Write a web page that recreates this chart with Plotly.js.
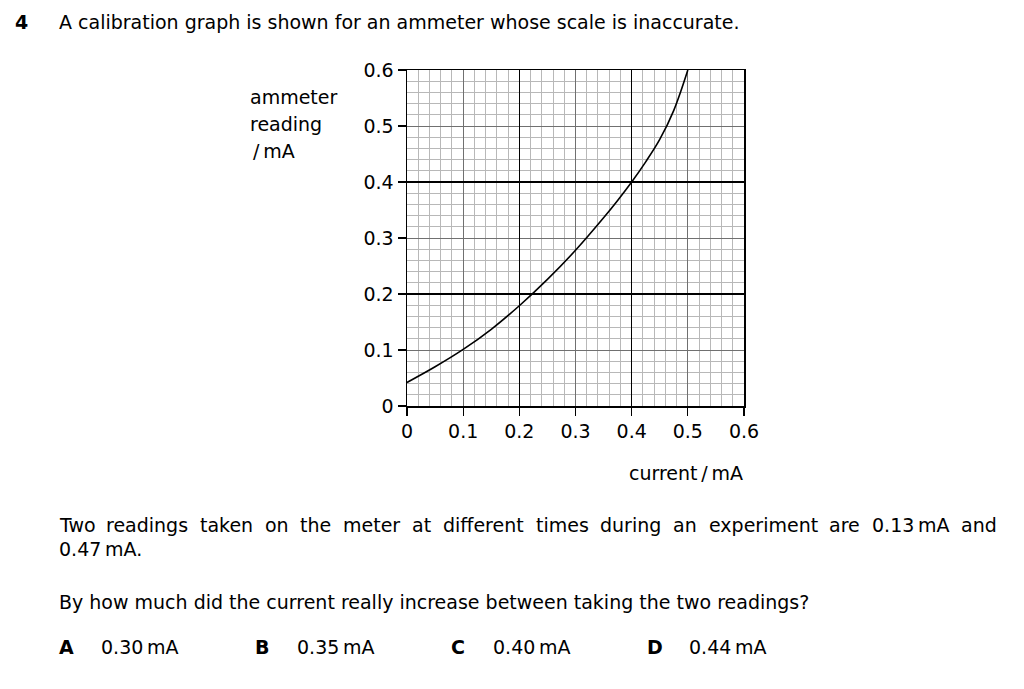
<!DOCTYPE html>
<html><head><meta charset="utf-8">
<script src="https://cdn.plot.ly/plotly-3.0.1.min.js"></script>
<style>html,body{margin:0;padding:0;background:#fff;}#plot{width:1024px;height:689px;}</style>
</head><body><div id="plot"></div>
<script>
const currentValues = [0, 0.05, 0.1, 0.15, 0.2, 0.25, 0.3, 0.35, 0.375, 0.4, 0.425, 0.45, 0.475, 0.5];
const readingValues = [0.042, 0.07, 0.101, 0.137, 0.179, 0.226, 0.278, 0.336, 0.367, 0.40, 0.436, 0.476, 0.528, 0.6];
const tickVals = [0, 0.1, 0.2, 0.3, 0.4, 0.5, 0.6];
const tickText = ['0', '0.1', '0.2', '0.3', '0.4', '0.5', '0.6'];
const questionText = 'A calibration graph is shown for an ammeter whose scale is inaccurate.';
const line1Words = ['Two', 'readings', 'taken', 'on', 'the', 'meter', 'at', 'different', 'times', 'during', 'an', 'experiment', 'are', '0.13\u2009mA', 'and'];
const line2 = '0.47\u2009mA.';
const line3 = 'By how much did the current really increase between taking the two readings?';
const optLetters = ['A', 'B', 'C', 'D'];
const optValues = ['0.30\u2009mA', '0.35\u2009mA', '0.40\u2009mA', '0.44\u2009mA'];

const F = 'DejaVu Sans, sans-serif';
const FS = 19;
const trace = {
  x: currentValues, y: readingValues, type: 'scatter', mode: 'lines',
  line: {color: '#000', width: 1.6, shape: 'spline', smoothing: 1},
  hoverinfo: 'skip', xaxis: 'x', yaxis: 'y'
};
const axBase = {range: [0, 0.6], fixedrange: true, zeroline: false};
function mainAxis() {
  return Object.assign({}, axBase, {
    tickvals: tickVals, ticktext: tickText, ticks: 'outside', ticklen: 8, tickwidth: 1.2, tickcolor: '#000',
    showgrid: true, gridcolor: '#707070', gridwidth: 1,
    minor: {dtick: 0.02, showgrid: true, gridcolor: '#b8b8b8', gridwidth: 1},
    showline: true, linecolor: '#000', linewidth: 1.5, mirror: true,
    tickfont: {family: F, size: FS, color: '#000'}
  });
}
const layout = {
  width: 1024, height: 689,
  margin: {l: 407, r: 280, t: 70, b: 283},
  paper_bgcolor: '#fff', plot_bgcolor: '#fff',
  showlegend: false,
  font: {family: F, size: FS, color: '#000'},
  xaxis: mainAxis(),
  yaxis: mainAxis(),
  xaxis2: Object.assign({}, axBase, {overlaying: 'x', dtick: 0.2, tick0: 0, showgrid: true, gridcolor: '#000', gridwidth: 1.3, showticklabels: false, ticks: '', showline: false}),
  yaxis2: Object.assign({}, axBase, {overlaying: 'y', dtick: 0.2, tick0: 0, showgrid: true, gridcolor: '#000', gridwidth: 1.3, showticklabels: false, ticks: '', showline: false}),
  annotations: []
};
const A = layout.annotations;
function txt(t, px, py, opts) {
  A.push(Object.assign({text: t, xref: 'paper', yref: 'paper', showarrow: false,
    x: (px - 407) / 337, y: (689 - 283 - py) / 336, xanchor: 'left', yanchor: 'middle',
    font: {family: F, size: FS, color: '#000'}}, opts || {}));
}
txt('<b>4</b>', 13, 22);
txt(questionText, 57, 22);
txt('ammeter', 248, 97);
txt('reading', 248, 124);
txt('/\u2009mA', 251, 151);
txt('current\u2009/\u2009mA', 745, 473, {xanchor: 'right'});

// justified first line: measure word widths and spread the gaps between 57 and 995
const ctx = document.createElement('canvas').getContext('2d');
ctx.font = FS + 'px "DejaVu Sans"';
const widths = line1Words.map(w => ctx.measureText(w).width);
const total = widths.reduce((a, b) => a + b, 0);
const gap = (995 - 57 - total) / (line1Words.length - 1);
let cx = 57;
line1Words.forEach((w, i) => { txt(w, cx, 525); cx += widths[i] + gap; });
txt(line2, 57, 549);
txt(line3, 57, 602);
const optX = [57, 253, 449, 645];
optLetters.forEach((l, i) => {
  txt('<b>' + l + '</b>', optX[i], 647);
  txt(optValues[i], optX[i] + 42, 647);
});
Plotly.newPlot('plot', [trace, {x: [0], y: [0], xaxis: 'x2', yaxis: 'y2', mode: 'markers', marker: {opacity: 0}, hoverinfo: 'skip'}], layout, {staticPlot: true});
</script></body></html>
